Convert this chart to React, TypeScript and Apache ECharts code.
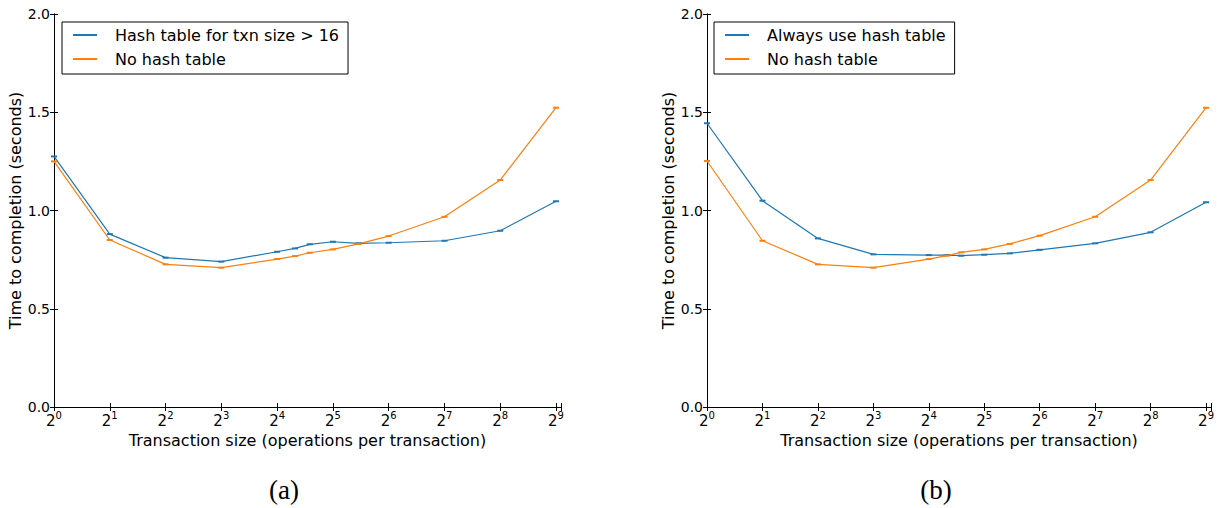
import React, { useEffect, useRef } from "react";
import * as echarts from "echarts";

const sizes = [1, 2, 4, 8, 16, 20, 24, 32, 44, 64, 128, 256, 512];
const leftHash = [1.275, 0.88, 0.76, 0.74, 0.79, 0.807, 0.828, 0.841, 0.833, 0.836, 0.846, 0.897, 1.047];
const leftNoHash = [1.25, 0.85, 0.726, 0.709, 0.753, 0.768, 0.785, 0.802, 0.83, 0.87, 0.968, 1.155, 1.523];
const rightAlways = [1.444, 1.05, 0.858, 0.777, 0.773, 0.773, 0.77, 0.775, 0.782, 0.8, 0.833, 0.889, 1.042];
const rightNoHash = [1.252, 0.846, 0.726, 0.709, 0.753, 0.77, 0.787, 0.802, 0.83, 0.872, 0.968, 1.155, 1.523];

const leftNames = ["Hash table for txn size > 16", "No hash table"];
const rightNames = ["Always use hash table", "No hash table"];
const xAxisTitle = "Transaction size (operations per transaction)";
const yAxisTitle = "Time to completion (seconds)";
const captions = ["(a)", "(b)"];
const yTicks = [0, 0.5, 1.0, 1.5, 2.0];

const BLUE = "#1f77b4";
const ORANGE = "#ff7f0e";
const FONT = "DejaVu Sans";

export default function App() {
  const ref = useRef<HTMLDivElement>(null);
  useEffect(() => {
    if (!ref.current) return;
    const chart = echarts.init(ref.current, null, { renderer: "svg" });

    const axisLine = { show: true, lineStyle: { color: "#000", width: 1 } };
    const tick = { show: true, inside: true, length: 4, lineStyle: { color: "#000", width: 1 } };

    const xBottom = (gridIndex: number) => ({
      type: "value",
      gridIndex,
      min: 0,
      max: 9.09,
      interval: 1,
      position: "bottom",
      name: xAxisTitle,
      nameLocation: "middle",
      nameGap: 20,
      nameTextStyle: { fontFamily: FONT, fontSize: 16, color: "#000" },
      axisLine,
      axisTick: tick,
      splitLine: { show: false },
      axisLabel: {
        margin: 3,
        color: "#000",
        fontFamily: FONT,
        formatter: (v: number) => (Number.isInteger(v) ? `{b|2}{s|${v}}` : ""),
        rich: {
          b: { fontSize: 15, fontFamily: FONT, color: "#000", lineHeight: 18, verticalAlign: "bottom" },
          s: { fontSize: 10, fontFamily: FONT, color: "#000", lineHeight: 10, verticalAlign: "top" },
        },
      },
    });
    const xTop = (gridIndex: number) => ({
      type: "value",
      gridIndex,
      min: 0,
      max: 9.09,
      interval: 1,
      position: "top",
      axisLine,
      axisTick: tick,
      axisLabel: { show: false },
      splitLine: { show: false },
    });
    const yLeft = (gridIndex: number) => ({
      type: "value",
      gridIndex,
      min: yTicks[0],
      max: yTicks[yTicks.length - 1],
      interval: 0.5,
      position: "left",
      name: yAxisTitle,
      nameLocation: "middle",
      nameGap: 30,
      nameTextStyle: { fontFamily: FONT, fontSize: 16, color: "#000" },
      axisLine,
      axisTick: tick,
      splitLine: { show: false },
      axisLabel: {
        margin: 4,
        color: "#000",
        fontFamily: FONT,
        fontSize: 14,
        formatter: (v: number) => v.toFixed(1),
      },
    });
    const yRight = (gridIndex: number) => ({
      type: "value",
      gridIndex,
      min: 0,
      max: 2,
      interval: 0.5,
      position: "right",
      axisLine,
      axisTick: tick,
      axisLabel: { show: false },
      splitLine: { show: false },
    });

    const mk = (name: string, vals: number[], color: string, xi: number, yi: number) => ({
      type: "line",
      name,
      xAxisIndex: xi,
      yAxisIndex: yi,
      data: sizes.map((s, i) => [Math.log2(s), vals[i]]),
      symbol: "rect",
      symbolSize: [6, 2],
      showSymbol: true,
      color,
      itemStyle: { color },
      lineStyle: { color, width: 1.2 },
      emphasis: { disabled: true },
    });

    const legendBase = {
      orient: "vertical",
      icon: "rect",
      itemWidth: 24,
      itemHeight: 2,
      itemGap: 8,
      padding: [5, 9, 7, 11],
      borderColor: "#000",
      borderWidth: 1,
      borderRadius: 0,
      backgroundColor: "#fff",
      textStyle: { fontFamily: FONT, fontSize: 16, color: "#000", padding: [0, 0, 0, 13], lineHeight: 16 },
    };

    chart.setOption({
      animation: false,
      grid: [
        { left: 54, top: 14, width: 507, height: 393 },
        { left: 707, top: 14, width: 506, height: 393 },
      ],
      xAxis: [xBottom(0), xTop(0), xBottom(1), xTop(1)],
      yAxis: [yLeft(0), yRight(0), yLeft(1), yRight(1)],
      legend: [
        { ...legendBase, left: 62, top: 22, data: leftNames },
        { ...legendBase, left: 714, top: 22, data: rightNames },
      ],
      series: [
        mk(leftNames[0], leftHash, BLUE, 0, 0),
        mk(leftNames[1], leftNoHash, ORANGE, 0, 0),
        mk(rightNames[0], rightAlways, BLUE, 2, 2),
        mk(rightNames[1], rightNoHash, ORANGE, 2, 2),
      ],
      graphic: [
        {
          type: "text",
          x: 284,
          y: 490,
          style: { text: captions[0], fontFamily: "Liberation Serif", fontSize: 27, fill: "#000", textAlign: "center", textVerticalAlign: "middle" },
        },
        {
          type: "text",
          x: 936,
          y: 490,
          style: { text: captions[1], fontFamily: "Liberation Serif", fontSize: 27, fill: "#000", textAlign: "center", textVerticalAlign: "middle" },
        },
      ],
    });
    return () => chart.dispose();
  }, []);
  return <div ref={ref} style={{ position: "absolute", left: 0, top: 0, width: 1217, height: 508, background: "#fff" }} />;
}
